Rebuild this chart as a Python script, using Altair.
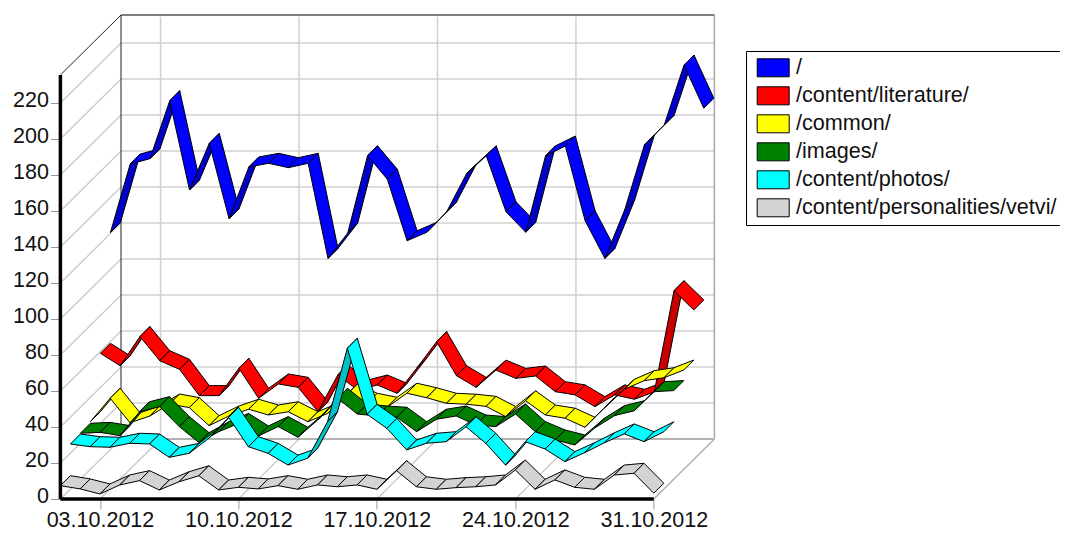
import altair as alt
import pandas as pd

names = ["/", "/content/literature/", "/common/", "/images/", "/content/photos/", "/content/personalities/vetvi/"]
light = ["#0000ff", "#ff0000", "#ffff00", "#008000", "#00ffff", "#d3d3d3"]
dark = ["#0000c8", "#c80000", "#c8c800", "#006000", "#00c0c8", "#a8a8a8"]

blue = [120.2,158.3,161.3,193.5,143.9,169.8,127.9,156.7,158.7,156.3,158.7,105.9,120,162.9,149.9,115.7,120.4,131.8,152.8,162.9,131.8,120.4,162.9,168.3,126.8,105.9,132.8,169,180,213.3,189.3]
red = [58.7,51.8,68,54.6,49.8,35.2,35.2,50.4,33.7,41.7,39.8,26.3,46.7,38.3,41.1,36.5,50.6,65.2,46.3,39.8,49.4,44.8,46.1,37.4,35.6,29.1,35.6,33.2,37.2,93.5,82.8]
yellow = [26.3,39.3,25.7,29.4,36.1,34.1,24.1,29.4,33.2,30,31.8,26.3,30.9,41.7,36.5,34.3,42.1,39.6,36.5,36,34.8,29.1,37.9,30,28.2,23.2,34.1,44.3,49.1,50.7,55]
green = [25.4,25.9,24.1,37.4,40.2,29.1,20.2,26.3,30.9,23.9,29.1,23.2,32.8,44.8,36.1,35,34.3,26.3,33.2,35,30,29.1,36.1,26.3,21.7,18.9,28.3,35.2,37.9,48.5,49.1]
cyan = [25,23.5,23.2,25.4,25,17.6,19.8,28.2,39.8,23.5,19.8,13.3,17.1,37.4,78.2,41.5,33.7,21.7,25.4,26.3,34.6,25.4,13.3,26.3,22.2,15.2,20.2,25.7,30.6,26.3,31.8]
gray = [7.4,5.6,2.8,7.8,10.2,5,9.6,12.9,5,6.5,5.6,7.4,5.4,7.8,6.8,7.8,5.4,15.7,6.8,5.4,6.3,6.8,7.8,16.1,5.4,10.6,6.5,5.4,13.3,14.3,3.2]
series = [blue, red, yellow, green, cyan, gray]

tick_days = [2, 9, 16, 23, 30]
tick_text = ["03.10.2012", "10.10.2012", "17.10.2012", "24.10.2012", "31.10.2012"]
y_ticks = list(range(0, 221, 20))

# 3-D geometry, in data units (days / value units)
W, H = 654, 484
PX_DAY = 19.78
PX_VAL = 1.8
X_MAX = W / PX_DAY
Y_MAX = H / PX_VAL
DX, DY = 10 / PX_DAY, 10 / PX_VAL       # depth of one ribbon
BX, BY = X_MAX - 30, 60 / PX_VAL        # depth of the whole box

rows = []
seg = 0
for idx, vals in enumerate(series):
    k = 5 - idx
    ox, oy = k * DX, k * DY
    for i in range(len(vals) - 1):
        rise = (vals[i + 1] - vals[i]) * PX_VAL
        key = names[idx] + " dark" if rise > PX_DAY else names[idx]
        corners = [
            (i, vals[i]), (i + 1, vals[i + 1]),
            (i + 1 + DX, vals[i + 1] + DY), (i + DX, vals[i] + DY), (i, vals[i]),
        ]
        for o, (cx, cy) in enumerate(corners):
            rows.append({"x": cx + ox, "y": cy + oy, "seg": seg, "o": o, "key": key})
        seg += 1
ribbon_df = pd.DataFrame(rows)

xs = alt.Scale(domain=[0, X_MAX], nice=False, zero=False)
ys = alt.Scale(domain=[0, Y_MAX], nice=False, zero=False)

label_expr = "{" + ",".join(f"'{d}':'{t}'" for d, t in zip(tick_days, tick_text)) + "}[datum.value]"
x_axis = alt.Axis(
    values=tick_days, labelExpr=label_expr, title=None, domain=False, grid=False,
    tickColor="#999999", tickSize=10, labelFontSize=21.5, labelFont="Liberation Sans",
    labelColor="#111111", labelPadding=0, labelOverlap=False, labelFlush=False)
y_axis = alt.Axis(
    values=y_ticks, title=None, domain=False, grid=False,
    tickColor="#999999", tickSize=10, labelFontSize=21.5, labelFont="Liberation Sans",
    labelColor="#111111", labelPadding=2, labelOverlap=False, labelOffset=-3, labelFlush=False,
    format="d")

def rules(segs, color, width):
    df = pd.DataFrame(segs, columns=["x", "y", "x2", "y2"])
    return alt.Chart(df).mark_rule(color=color, strokeWidth=width).encode(
        x=alt.X("x:Q", scale=xs, axis=x_axis),
        y=alt.Y("y:Q", scale=ys, axis=y_axis),
        x2="x2:Q",
        y2="y2:Q",
    )

grid_h = [(BX, v + BY, X_MAX, v + BY) for v in y_ticks[1:]]
grid_side = [(0, v, BX, v + BY) for v in y_ticks[1:]]
grid_v = [(d + BX, BY, d + BX, Y_MAX - 1) for d in tick_days]
grid_floor = [(d, 0, d + BX, BY) for d in tick_days[:-1]] + [(0, 0, BX, BY)]

ribbon_domain = names + [n + " dark" for n in names]
ribbons = alt.Chart(ribbon_df).mark_line(stroke="black", strokeWidth=1, interpolate="linear", strokeJoin="miter").encode(
    x=alt.X("x:Q", scale=xs, axis=x_axis),
    y=alt.Y("y:Q", scale=ys, axis=y_axis),
    detail="seg:N",
    order="o:Q",
    fill=alt.Fill("key:N", scale=alt.Scale(domain=ribbon_domain, range=light + dark), legend=alt.Legend(
        values=names, title=None, orient="none", legendX=746 - 60.4, legendY=51 - 15,
        symbolType="M-1.6,-0.9H1.6V0.9H-1.6Z", symbolSize=400, symbolOffset=10.4, symbolStrokeColor="black",
        symbolStrokeWidth=1, labelFontSize=21.6, labelFont="Liberation Sans", labelColor="#111111",
        labelOffset=12, labelLimit=400, rowPadding=5, padding=6, strokeColor="black",
        labelOpacity=1, symbolOpacity=1)),
)

chart = alt.layer(
    rules(grid_h + grid_v, "#d0d0d0", 1.5),
    rules(grid_side + grid_floor, "#c8c8c8", 1.2),
    rules([(BX, BY, X_MAX, BY)], "#999999", 1.5),
    rules([(X_MAX, BY, X_MAX, Y_MAX), (30, 0, X_MAX, BY)], "#b0b0b0", 1.5),
    rules([(BX, BY, BX, Y_MAX), (0, Y_MAX - BY, BX, Y_MAX)], "#222222", 1),
    rules([(BX, Y_MAX, X_MAX, Y_MAX)], "#555555", 1.5),
    ribbons,
    rules([(0, 0, 0, Y_MAX - BY), (0, 0, 30, 0)], "black", 3.5),
).properties(
    width=W, height=H,
    autosize=alt.AutoSizeParams(type="none"),
    padding={"left": 52.4, "top": 7, "right": 345.6, "bottom": 32},
).configure_view(stroke=None)

chart.save("out.html", embed_options={"renderer": "svg", "actions": False})
